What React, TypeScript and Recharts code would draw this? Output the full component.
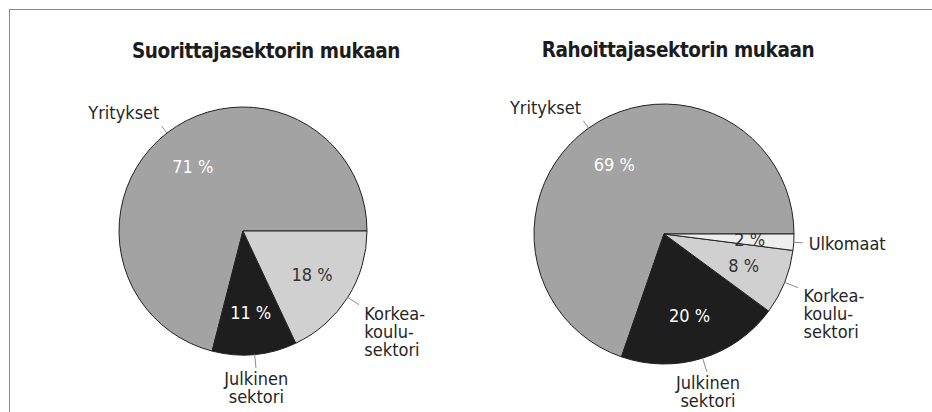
import React from "react";
import { Cell, Pie, PieChart } from "recharts";

// Two pies: R&D spending by performing sector (left) and by funding sector (right).
const leftShares = [71, 11, 18];
const leftLabels = [["Yritykset"], ["Julkinen", "sektori"], ["Korkea-", "koulu-", "sektori"]];

const rightShares = [69, 20, 8, 2];
const rightLabels = [
  ["Yritykset"],
  ["Julkinen", "sektori"],
  ["Korkea-", "koulu-", "sektori"],
  ["Ulkomaat"],
];

const titles = ["Suorittajasektorin mukaan", "Rahoittajasektorin mukaan"];

const FILLS = ["#a3a3a3", "#1e1e1e", "#d0d0d0", "#eeeeee"];
const PCT_FILLS = ["#ffffff", "#ffffff", "#333333", "#333333"];
const FONT = "'DejaVu Sans Condensed', 'Liberation Sans', Arial, sans-serif";
const RAD = Math.PI / 180;

const toRows = (shares: number[], labels: string[][]) =>
  shares.map((v, i) => ({ name: labels[i].join(" "), value: v, lines: labels[i] }));

function SliceLabel(props: any) {
  const { cx, cy, midAngle, outerRadius, index, value, payload } = props;
  const r = outerRadius;
  const dx = Math.cos(-midAngle * RAD);
  const dy = Math.sin(-midAngle * RAD);
  const lines: string[] = payload?.lines ?? props.lines ?? [];

  // percentage inside the slice
  const px = cx + r * 0.66 * dx;
  const py = cy + r * 0.66 * dy;

  // leader line + outer label; labels below the pie sit a bit further out
  const k = dy > 0.3 ? 1.14 : 1.1;
  const lx1 = cx + r * dx;
  const ly1 = cy + r * dy;
  const lx2 = cx + r * (k - 0.03) * dx;
  const ly2 = cy + r * (k - 0.03) * dy;
  const ax = cx + r * k * dx + (dx > 0.3 ? 2 : 0);
  const ay = cy + r * k * dy;
  const anchor = dx > 0.3 ? "start" : dx < -0.3 ? "end" : "middle";
  const cap = 13;
  const lh = 18;
  const n = lines.length;
  let firstBase: number;
  if (dy > 0.3) firstBase = ay + cap;
  else if (dy < -0.3) firstBase = ay - 4 - (n - 1) * lh;
  else firstBase = ay - ((n - 1) * lh + cap) / 2 + cap;

  return (
    <g>
      <text
        x={px}
        y={py}
        textAnchor="middle"
        dominantBaseline="central"
        fill={PCT_FILLS[index]}
        fontFamily={FONT}
        fontSize={18}
      >
        {`${value} %`}
      </text>
      <line x1={lx1} y1={ly1} x2={lx2} y2={ly2} stroke="#8c8c8c" strokeWidth={1} />
      <text x={ax} y={firstBase} textAnchor={anchor} fill="#262626" fontFamily={FONT} fontSize={18}>
        {lines.map((t, i) => (
          <tspan key={i} x={ax} y={firstBase + i * lh}>
            {t}
          </tspan>
        ))}
      </text>
    </g>
  );
}

function SectorPie({
  shares,
  labels,
  cx,
  cy,
  radius,
}: {
  shares: number[];
  labels: string[][];
  cx: number;
  cy: number;
  radius: number;
}) {
  const rows = toRows(shares, labels);
  return (
    <PieChart width={466} height={412}>
      <Pie
        data={rows}
        dataKey="value"
        nameKey="name"
        cx={cx}
        cy={cy}
        outerRadius={radius}
        startAngle={0}
        endAngle={360}
        stroke="#222"
        strokeWidth={1}
        label={SliceLabel}
        labelLine={false}
        isAnimationActive={false}
      >
        {rows.map((_, i) => (
          <Cell key={i} fill={FILLS[i]} />
        ))}
      </Pie>
    </PieChart>
  );
}

export default function App() {
  return (
    <div
      style={{
        position: "absolute",
        left: 0,
        top: 0,
        width: 932,
        height: 412,
        background: "#fff",
        overflow: "hidden",
      }}
    >
      <div
        style={{
          position: "absolute",
          left: 9,
          top: 9,
          width: 940,
          height: 420,
          borderTop: "1px solid #8a8a8a",
          borderLeft: "1px solid #8a8a8a",
        }}
      />
      <div style={{ position: "absolute", left: 0, top: 0 }}>
        <SectorPie shares={leftShares} labels={leftLabels} cx={238} cy={226} radius={124} />
      </div>
      <div style={{ position: "absolute", left: 466, top: 0 }}>
        <SectorPie shares={rightShares} labels={rightLabels} cx={193} cy={229} radius={130} />
      </div>
      <svg
        width={932}
        height={412}
        style={{ position: "absolute", left: 0, top: 0, pointerEvents: "none" }}
      >
        <text x={266} y={58} textAnchor="middle" fontFamily={FONT} fontWeight="bold" fontSize={20.5} letterSpacing={-0.4} fill="#1c1c1c">
          {titles[0]}
        </text>
        <text x={678} y={57} textAnchor="middle" fontFamily={FONT} fontWeight="bold" fontSize={20.5} letterSpacing={-0.4} fill="#1c1c1c">
          {titles[1]}
        </text>
      </svg>
    </div>
  );
}
